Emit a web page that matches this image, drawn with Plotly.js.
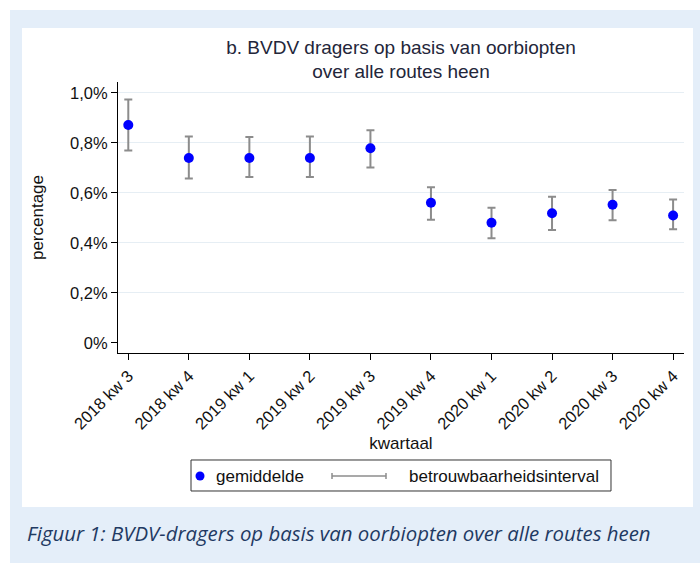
<!DOCTYPE html>
<html>
<head>
<meta charset="utf-8">
<script src="https://cdn.plot.ly/plotly-3.0.1.min.js"></script>
<style>
  html, body { margin: 0; padding: 0; background: #ffffff; }
  #wrap { position: relative; width: 700px; height: 565px; overflow: hidden; }
  #blue { position: absolute; left: 10px; top: 10px; width: 690px; height: 553px; background: #e4eef9; }
  #white { position: absolute; left: 22px; top: 28px; width: 671px; height: 479px; background: #ffffff; }
  #chart { position: absolute; left: 0; top: 0; width: 700px; height: 565px; }
</style>
</head>
<body>
<div id="wrap">
  <div id="blue"></div>
  <div id="white"></div>
  <div id="chart"></div>
</div>
<script>
const quarters = ["2018 kw 3", "2018 kw 4", "2019 kw 1", "2019 kw 2", "2019 kw 3",
                  "2019 kw 4", "2020 kw 1", "2020 kw 2", "2020 kw 3", "2020 kw 4"];
const mean  = [0.871, 0.739, 0.739, 0.739, 0.778, 0.560, 0.480, 0.518, 0.552, 0.509];
const upper = [0.973, 0.825, 0.823, 0.825, 0.850, 0.622, 0.540, 0.584, 0.611, 0.573];
const lower = [0.769, 0.657, 0.663, 0.663, 0.701, 0.492, 0.418, 0.451, 0.490, 0.454];
const yTickVals = [0, 0.2, 0.4, 0.6, 0.8, 1.0];
const yTickText = ["0%", "0,2%", "0,4%", "0,6%", "0,8%", "1,0%"];
const legendNames = ["gemiddelde", "betrouwbaarheidsinterval"];
const titleLines = ["b. BVDV dragers op basis van oorbiopten", "over alle routes heen"];

const xIdx = quarters.map((q, i) => i);
const errPlus = upper.map((u, i) => u - mean[i]);
const errMinus = lower.map((l, i) => mean[i] - l);

const font = "Liberation Sans";
const txt = "#111111";
const titleColor = "#23263a";
const ciColor = "#8c8c8c";
const dotColor = "#0000ff";

const traces = [
  {
    type: "scatter", mode: "markers", name: legendNames[0],
    x: xIdx, y: mean,
    marker: { color: dotColor, size: 10 },
    error_y: { type: "data", symmetric: false, array: errPlus, arrayminus: errMinus,
               color: ciColor, thickness: 2, width: 4 },
    hoverinfo: "skip", showlegend: false
  }
];

// manual legend (box, symbols, labels) in paper coordinates
const legY = -0.4539;
const shapes = [
  { type: "rect", xref: "paper", yref: "paper", x0: 0.129, x1: 0.871, y0: -0.5092, y1: -0.3948,
    line: { color: "#333333", width: 1 }, fillcolor: "#ffffff", layer: "above" },
  { type: "circle", xref: "paper", yref: "paper", xsizemode: "pixel", ysizemode: "pixel",
    xanchor: 0.1449, yanchor: legY, x0: -4.5, x1: 4.5, y0: -4.5, y1: 4.5,
    fillcolor: dotColor, line: { width: 0 }, layer: "above" },
  { type: "line", xref: "paper", yref: "paper", x0: 0.3781, x1: 0.4735, y0: legY, y1: legY,
    line: { color: ciColor, width: 1.5 }, layer: "above" },
  { type: "line", xref: "paper", yref: "paper", ysizemode: "pixel", yanchor: legY,
    x0: 0.3781, x1: 0.3781, y0: -3, y1: 3, line: { color: ciColor, width: 1.5 }, layer: "above" },
  { type: "line", xref: "paper", yref: "paper", ysizemode: "pixel", yanchor: legY,
    x0: 0.4735, x1: 0.4735, y0: -3, y1: 3, line: { color: ciColor, width: 1.5 }, layer: "above" }
];

const layout = {
  width: 700, height: 565,
  paper_bgcolor: "rgba(0,0,0,0)",
  plot_bgcolor: "#ffffff",
  margin: { l: 118, r: 16, t: 82, b: 212 },
  font: { family: font, size: 17, color: txt },
  title: {
    text: titleLines.join("<br>"),
    font: { family: font, size: 19, color: titleColor },
    x: 0.5, xref: "paper", xanchor: "center",
    y: 0.9053, yref: "container", yanchor: "middle"
  },
  showlegend: false,
  xaxis: {
    range: [-0.17, 9.18],
    tickmode: "array", tickvals: xIdx, ticktext: quarters,
    tickangle: -45, ticks: "outside", ticklen: 6, tickcolor: "#000",
    showline: true, linecolor: "#000", linewidth: 1,
    showgrid: false, zeroline: false,
    tickfont: { family: font, size: 16.5, color: txt },
    title: { text: "kwartaal", font: { family: font, size: 17, color: txt }, standoff: 5 }
  },
  yaxis: {
    range: [-0.041, 1.043],
    tickmode: "array", tickvals: yTickVals, ticktext: yTickText,
    ticks: "outside", ticklen: 6, tickcolor: "#000",
    showline: true, linecolor: "#000", linewidth: 1,
    showgrid: true, gridcolor: "#e6eef4", gridwidth: 1,
    zeroline: true, zerolinecolor: "#ffffff", zerolinewidth: 2,
    tickfont: { family: font, size: 16.5, color: txt },
    title: { text: "percentage", font: { family: font, size: 17, color: txt }, standoff: 22 }
  },
  shapes: shapes,
  annotations: [
    { text: legendNames[0], xref: "paper", yref: "paper", x: 0.1696, y: legY,
      xanchor: "left", yanchor: "middle", showarrow: false,
      font: { family: font, size: 17, color: txt } },
    { text: legendNames[1], xref: "paper", yref: "paper", x: 0.5106, y: legY,
      xanchor: "left", yanchor: "middle", showarrow: false,
      font: { family: font, size: 17, color: txt } },
    {
      text: "Figuur 1: BVDV-dragers op basis van oorbiopten over alle routes heen",
      xref: "paper", yref: "paper", x: -0.1643, y: -0.664, xanchor: "left", yanchor: "middle",
      showarrow: false,
      font: { family: "Open Sans", size: 20.4, color: "#1f3a63", style: "italic" }
    }
  ]
};

Plotly.newPlot("chart", traces, layout, { displayModeBar: false, staticPlot: true });
</script>
</body>
</html>
